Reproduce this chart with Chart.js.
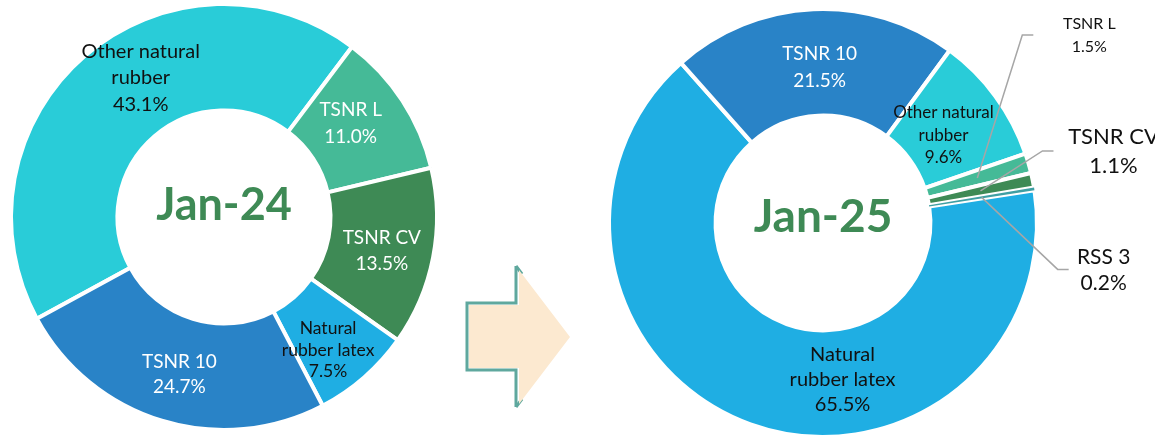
<!DOCTYPE html>
<html>
<head>
<meta charset="utf-8">
<script src="https://cdn.jsdelivr.net/npm/chart.js@4.4.1/dist/chart.umd.min.js"></script>
<style>
  html, body { margin: 0; padding: 0; background: #fff; width: 1155px; height: 435px; overflow: hidden; }
  canvas { position: absolute; top: 0; }
  #before { left: 0; }
  #after { left: 600px; }
  #arrow { position: absolute; left: 0; top: 0; }
</style>
</head>
<body>
<canvas id="before" width="448" height="435"></canvas>
<svg id="arrow" width="1155" height="435">
  <path d="M516,266 L516,303 L467,303 L467,370 L516,370 L516,407" fill="none" stroke="#5fa89e" stroke-width="3"/>
  <path d="M516,266 L522,274 M516,407 L522,399" fill="none" stroke="#5fa89e" stroke-width="3"/>
  <polygon points="469,305 519,305 519,270 570,337 519,404 519,368 469,368" fill="#fce9d0"/>
</svg>
<canvas id="after" width="555" height="446"></canvas>
<script>
// export mix by grade, share of total (%)
const categoriesJan24 = [['Other natural', 'rubber'], 'TSNR L', 'TSNR CV', ['Natural', 'rubber latex'], 'TSNR 10']
const sharesJan24 = [43.1, 11.0, 13.5, 7.5, 24.7]

const categoriesJan25 = [['Natural', 'rubber latex'], 'TSNR 10', ['Other natural', 'rubber'], 'TSNR L', 'TSNR CV', 'RSS 3']
const sharesJan25 = [65.5, 21.5, 9.6, 1.5, 1.1, 0.2]

const gradeColours = {
    'Other natural rubber': '#29ccd8',
    'TSNR L': '#45ba97',
    'TSNR CV': '#3e8a55',
    'Natural rubber latex': '#1faee3',
    'TSNR 10': '#2983c7',
    'RSS 3': '#3f9fa3'
}

function gradeName(label){
    return Array.isArray(label) ? label.join(' ') : label
}

//labels inside / beside each slice
////////////////////////////////////
const sliceLabels = {
    id: 'sliceLabels',
    afterDatasetsDraw(chart, args, opts){
        const ctx = chart.ctx
        const meta = chart.getDatasetMeta(0)
        const values = chart.data.datasets[0].data
        ctx.save()
        ctx.textAlign = 'center'
        ctx.textBaseline = 'alphabetic'
        meta.data.forEach((arc, i) => {
            const s = opts.styles[i]
            const p = arc.tooltipPosition()
            const x = p.x + s.dx
            const y = p.y + s.dy
            let label = chart.data.labels[i]
            let lines = Array.isArray(label) ? label.slice() : [label]
            lines.push(values[i].toFixed(1) + '%')
            if (s.leader){
                const endX = x + s.leader
                ctx.beginPath()
                ctx.moveTo(p.x, p.y)
                ctx.lineTo(endX - 11, y)
                ctx.lineTo(endX, y)
                ctx.strokeStyle = '#a6a6a6'
                ctx.lineWidth = 1.5
                ctx.stroke()
            }
            ctx.font = s.size + 'px Lato'
            ctx.fillStyle = s.color
            const top = y - s.lineHeight * (lines.length - 1) / 2
            lines.forEach((t, k) => {
                ctx.fillText(t, x, top + k * s.lineHeight + s.size * 0.36)
            })
        })
        // month in the hole
        const c = meta.data[0]
        ctx.font = 'bold ' + opts.titleSize + 'px Lato'
        ctx.fillStyle = '#3e8a55'
        ctx.fillText(opts.title, c.x, c.y + opts.titleDy + opts.titleSize * 0.36)
        ctx.restore()
    }
}

function buildDoughnut(canvasId, categories, shares, cfg){
    let ctx = document.getElementById(canvasId).getContext('2d')
    const data = {
        labels: categories,
        datasets: [{
            data: shares,
            backgroundColor: categories.map(l => gradeColours[gradeName(l)]),
            borderColor: '#ffffff',
            borderWidth: cfg.borderWidths,
            hoverOffset: 0
        }]
    }
    return new Chart(ctx, {
        type: 'doughnut',
        data: data,
        options: {
            responsive: false,
            animation: false,
            rotation: cfg.rotation,
            cutout: cfg.cutout,
            layout: { padding: cfg.padding },
            events: [],
            plugins: {
                legend: { display: false },
                tooltip: { enabled: false },
                sliceLabels: {
                    title: cfg.title,
                    titleSize: cfg.titleSize,
                    titleDy: cfg.titleDy,
                    styles: cfg.styles
                }
            }
        },
        plugins: [sliceLabels]
    })
}

const dark = '#111111'
const light = '#ffffff'

buildDoughnut('before', categoriesJan24, sharesJan24, {
    title: 'Jan-24',
    titleSize: 45,
    titleDy: -13,
    rotation: 241.5,
    cutout: '50%',
    borderWidths: 4,
    padding: { left: 9, right: 9, top: 2, bottom: 3 },
    styles: [
        { dx: 21, dy: -19, size: 20, lineHeight: 26.5, color: dark },
        { dx: -7, dy: -7, size: 19, lineHeight: 27.5, color: light },
        { dx: 1, dy: 3, size: 19, lineHeight: 26, color: light },
        { dx: -1, dy: 12, size: 17.5, lineHeight: 21.5, color: dark },
        { dx: 2, dy: 4, size: 19, lineHeight: 25, color: light }
    ]
})

// RSS 3 is drawn last with no border so the thin slice stays visible
buildDoughnut('after', categoriesJan25, sharesJan25, {
    title: 'Jan-25',
    titleSize: 46,
    titleDy: -8,
    rotation: 81.2,
    cutout: '50.2%',
    borderWidths: [4, 4, 4, 4, 4, 0],
    padding: { left: 7, right: 116, top: 7, bottom: 7 },
    styles: [
        { dx: 74, dy: 5, size: 20, lineHeight: 25, color: dark },
        { dx: 4, dy: 4, size: 19, lineHeight: 27, color: light },
        { dx: -9, dy: 7, size: 17, lineHeight: 22.5, color: dark },
        { dx: 112, dy: -143, size: 16, lineHeight: 23, color: dark, leader: -56 },
        { dx: 133, dy: -40, size: 22, lineHeight: 29, color: dark, leader: -60 },
        { dx: 122, dy: 72, size: 21, lineHeight: 26, color: dark, leader: -35 }
    ]
})
</script>
</body>
</html>
